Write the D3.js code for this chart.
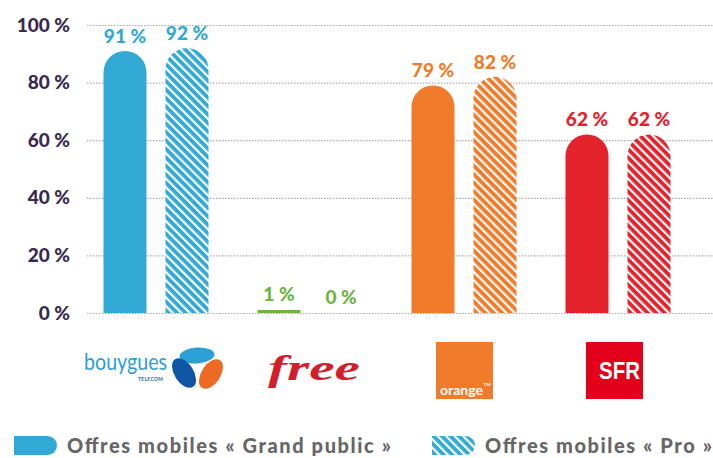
<!DOCTYPE html>
<html>
<head>
<meta charset="utf-8">
<script src="https://cdn.jsdelivr.net/npm/d3@7"></script>
<style>
  body { margin: 0; background: #fff; }
  svg { display: block; font-family: "Lato", "DejaVu Sans", sans-serif; }
</style>
</head>
<body>
<svg width="713" height="458"></svg>
<script>
// data
const operators = ["Bouygues Telecom", "Free", "Orange", "SFR"];
const series = ["Grand public", "Pro"];
const grandPublic = [91, 1, 79, 62];
const pro = [92, 0, 82, 62];
const opColors = ["#31a9d4", "#6ab545", "#f07b2a", "#e3222b"];
const yTicks = [0, 20, 40, 60, 80, 100];
const legendLabels = ["Offres mobiles « Grand public »", "Offres mobiles « Pro »"];

const svg = d3.select("svg");
const defs = svg.append("defs");

// hatch patterns, one per operator colour
opColors.forEach((c, i) => {
    const p = defs.append("pattern")
        .attr("id", "hatch" + i)
        .attr("patternUnits", "userSpaceOnUse")
        .attr("width", 6)
        .attr("height", 6)
        .attr("patternTransform", "rotate(-45)");
    p.append("rect").attr("width", 6).attr("height", 6).attr("fill", c);
    p.append("rect").attr("x", 0).attr("width", 2.2).attr("height", 6).attr("fill", "#fff");
});

const x = d3.scaleBand().domain(operators).range([79, 695]);
const x1 = d3.scaleBand().domain(series).range([0, x.bandwidth()])
    .paddingInner(0.3065).paddingOuter(0.395);
const y = d3.scaleLinear().domain([0, 100]).range([313, 25]);

// axis + dotted gridlines
const axis = svg.append("g")
    .attr("transform", "translate(87,0)")
    .call(d3.axisLeft(y).tickValues(yTicks).tickFormat(d => d + " %")
        .tickSize(-626).tickPadding(17));
axis.select(".domain").remove();
axis.selectAll(".tick line")
    .attr("stroke", "#aaa")
    .attr("stroke-width", 1.2)
    .attr("stroke-dasharray", "1.5,1.5");
axis.selectAll(".tick text")
    .attr("fill", "#372a4e")
    .attr("font-size", 19)
    .attr("font-weight", 900)
    .attr("font-family", "Lato, sans-serif");

function barPath (bx, w, v) {
    const y0 = y(0), top = y(v), r = w / 2;
    if (y0 - top < r) {
        return `M${bx},${y0}V${top}H${bx + w}V${y0}Z`;
    }
    return `M${bx},${y0}V${top + r}A${r},${r} 0 0 1 ${bx + w},${top + r}V${y0}Z`;
}

const rows = operators.map((op, i) => ({
    op: op, i: i,
    vals: [{s: series[0], v: grandPublic[i]}, {s: series[1], v: pro[i]}]
}));

const groups = svg.selectAll("g.grp")
    .data(rows)
    .enter().append("g")
        .attr("class", "grp")
        .attr("transform", d => `translate(${x(d.op)},0)`);

groups.selectAll("path")
    .data(d => d.vals.map(e => Object.assign({i: d.i}, e)))
    .enter().append("path")
        .filter(d => d.v > 0)
        .attr("d", d => barPath(x1(d.s), x1.bandwidth(), d.v))
        .attr("fill", d => d.s === "Pro" ? `url(#hatch${d.i})` : opColors[d.i]);

groups.selectAll("text")
    .data(d => d.vals.map(e => Object.assign({i: d.i}, e)))
    .enter().append("text")
        .attr("x", d => x1(d.s) + x1.bandwidth() / 2)
        .attr("y", d => y(d.v) - (d.v < 5 ? 9 : 8))
        .attr("text-anchor", "middle")
        .attr("font-size", 19)
        .attr("font-weight", 900)
        .attr("fill", d => opColors[d.i])
        .text(d => d.v + " %");

// logos (drawn under each group)
const cx = operators.map(op => x(op) + x.bandwidth() / 2);

// Bouygues Telecom
const bl = svg.append("g").attr("transform", `translate(${cx[0]},0)`);
bl.append("text")
    .attr("x", -72).attr("y", 370)
    .attr("font-size", 22.5)
    .attr("font-family", "Lato, sans-serif")
    .attr("font-weight", 400)
    .attr("fill", "#2aa0d4")
    .attr("textLength", 83)
    .attr("lengthAdjust", "spacingAndGlyphs")
    .text("bouygues");
bl.append("text")
    .attr("x", -18).attr("y", 381)
    .attr("font-size", 5)
    .attr("font-weight", 700)
    .attr("fill", "#1f5fa5")
    .attr("textLength", 25)
    .text("TELECOM");
bl.append("ellipse")
    .attr("cx", 0).attr("cy", 0).attr("rx", 17.5).attr("ry", 8)
    .attr("fill", "#2aa0d4")
    .attr("transform", "translate(41,355.5) rotate(-4)");
bl.append("ellipse")
    .attr("cx", 0).attr("cy", 0).attr("rx", 9.5).attr("ry", 16.5)
    .attr("fill", "#0e56a3")
    .attr("transform", "translate(28,373) rotate(-33)");
bl.append("ellipse")
    .attr("cx", 0).attr("cy", 0).attr("rx", 9.5).attr("ry", 16.5)
    .attr("fill", "#ec6a23")
    .attr("transform", "translate(55,374) rotate(33)");

// Free
svg.append("text")
    .attr("x", cx[1] - 42).attr("y", 380)
    .attr("font-size", 36)
    .attr("font-family", "'Liberation Serif', serif")
    .attr("font-style", "italic")
    .attr("font-weight", 700)
    .attr("fill", "#d31f2c")
    .attr("textLength", 92)
    .attr("lengthAdjust", "spacingAndGlyphs")
    .text("free");

// Orange
svg.append("rect")
    .attr("x", cx[2] - 28).attr("y", 342).attr("width", 57).attr("height", 57)
    .attr("fill", "#f07b2a");
svg.append("text")
    .attr("x", cx[2] - 24).attr("y", 395)
    .attr("font-size", 14)
    .attr("font-weight", 700)
    .attr("fill", "#fff")
    .attr("textLength", 43)
    .attr("lengthAdjust", "spacingAndGlyphs")
    .text("orange");
svg.append("text")
    .attr("x", cx[2] + 19.5).attr("y", 386)
    .attr("font-size", 4.5)
    .attr("font-weight", 700)
    .attr("fill", "#fff")
    .text("TM");

// SFR
svg.append("rect")
    .attr("x", cx[3] - 32).attr("y", 342).attr("width", 57).attr("height", 57)
    .attr("fill", "#e2001a");
svg.append("text")
    .attr("x", cx[3] - 19).attr("y", 379)
    .attr("font-size", 23.5)
    .attr("font-weight", 700)
    .attr("font-family", "'Liberation Sans', Arial, sans-serif")
    .attr("fill", "#fff")
    .attr("textLength", 41)
    .attr("lengthAdjust", "spacingAndGlyphs")
    .text("SFR");

// legend
const legend = svg.append("g");
const legendX = [14, 432];
const legendW = [324, 227];
function swatchPath (lx, w, h, ly) {
    const r = h / 2;
    return `M${lx},${ly}H${lx + w - r}A${r},${r} 0 0 1 ${lx + w - r},${ly + h}H${lx}Z`;
}
legendLabels.forEach((lab, i) => {
    legend.append("path")
        .attr("d", swatchPath(legendX[i], 43, 19, 436))
        .attr("fill", i === 0 ? opColors[0] : "url(#hatch0)");
    legend.append("text")
        .attr("x", legendX[i] + 53)
        .attr("y", 453)
        .attr("font-size", 20)
        .attr("font-weight", 900)
        .attr("fill", "#666")
        .attr("textLength", legendW[i])
        .attr("lengthAdjust", "spacing")
        .text(lab);
});
</script>
</body>
</html>
